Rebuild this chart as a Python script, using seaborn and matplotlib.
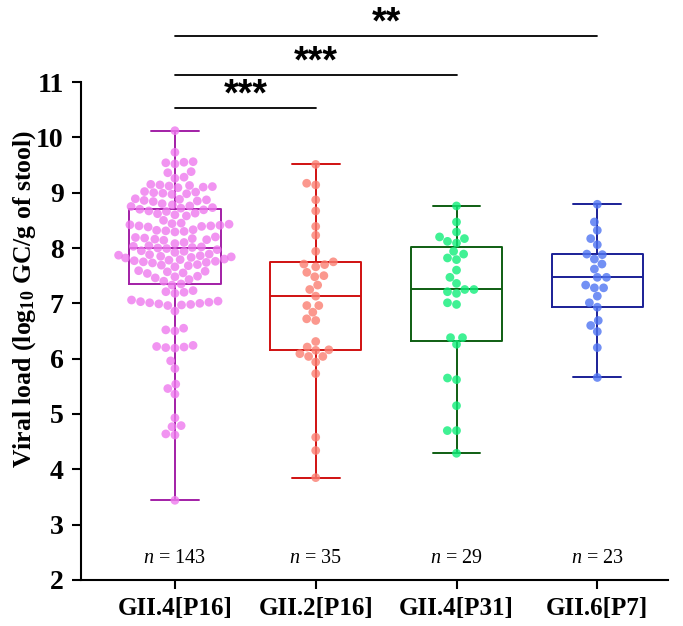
import numpy as np
import pandas as pd
import matplotlib
matplotlib.use("Agg")
import matplotlib.pyplot as plt
import seaborn as sns

genotypes = ["GII.4[P16]", "GII.2[P16]", "GII.4[P31]", "GII.6[P7]"]

# viral load values (log10 GC/g of stool)
gii4_p16 = [
    10.12, 9.73, 9.56, 9.54, 9.52, 9.55, 9.38, 9.36, 9.28, 9.26,
    9.15, 9.13, 9.12, 9.10, 9.14, 9.11, 9.09,
    9.02, 9.00, 8.98, 9.01, 8.99, 8.97,
    8.89, 8.87, 8.86, 8.88, 8.85, 8.84,
    8.80, 8.78, 8.76, 8.75, 8.73, 8.72, 8.70, 8.69, 8.67, 8.66,
    8.63, 8.62, 8.60, 8.58, 8.50,
    8.45, 8.44, 8.43, 8.42, 8.41, 8.40, 8.40, 8.39, 8.38,
    8.33, 8.32, 8.31, 8.30, 8.29,
    8.20, 8.19, 8.18, 8.17, 8.16, 8.15, 8.14, 8.10, 8.08,
    8.04, 8.03, 8.02, 8.01, 8.00, 7.99, 7.97, 7.95, 7.94, 7.92,
    7.89, 7.88, 7.87, 7.86, 7.85, 7.84, 7.83, 7.82,
    7.80, 7.79, 7.78, 7.77, 7.76, 7.75, 7.74, 7.73,
    7.70, 7.69, 7.68, 7.66, 7.59, 7.58, 7.57, 7.55, 7.54,
    7.49, 7.48, 7.46, 7.43, 7.40, 7.35, 7.33, 7.23, 7.21, 7.20, 7.18,
    7.06, 7.04, 7.03, 7.02, 7.01, 7.00, 6.99, 6.98, 6.97, 6.96,
    6.86, 6.55, 6.52, 6.50, 6.24, 6.22, 6.21, 6.20, 6.19,
    5.96, 5.82, 5.54, 5.46, 5.36, 4.93, 4.79, 4.77, 4.64, 4.62, 3.44,
]
gii2_p16 = [
    9.51, 9.14, 9.17, 8.87, 8.67, 8.39, 8.23, 7.94, 7.75, 7.70,
    7.71, 7.66, 7.56, 7.50, 7.48, 7.33, 7.25, 7.13, 6.96, 6.96,
    6.84, 6.72, 6.69, 6.31, 6.21, 6.16, 6.15, 6.09, 6.04, 6.04,
    5.94, 5.73, 4.58, 4.34, 3.85,
]
gii4_p31 = [
    8.76, 8.47, 8.29, 8.20, 8.17, 8.12, 8.09, 7.94, 7.89, 7.82,
    7.79, 7.60, 7.47, 7.36, 7.25, 7.25, 7.21, 7.18, 7.01, 6.98,
    6.38, 6.38, 6.26, 5.65, 5.62, 5.15, 4.70, 4.70, 4.29,
]
gii6_p7 = [
    8.79, 8.47, 8.32, 8.17, 8.06, 7.89, 7.88, 7.80, 7.71, 7.62,
    7.47, 7.47, 7.33, 7.28, 7.28, 7.13, 7.01, 6.93, 6.69, 6.60,
    6.49, 6.20, 5.66,
]

point_colors = ["#EE7AEE", "#FA7F72", "#10EE7A", "#4F74F2"]
line_colors = ["#A21FA6", "#D01010", "#0E5E12", "#1A1F96"]

# comparisons: (group a, group b, bar height, stars)
comparisons = [(0, 1, 10.53, "***"), (0, 2, 11.13, "***"), (0, 3, 11.83, "**")]

groups = [gii4_p16, gii2_p16, gii4_p31, gii6_p7]
df = pd.DataFrame({
    "genotype": np.repeat(genotypes, [len(g) for g in groups]),
    "load": np.concatenate(groups),
})

sns.set_style("ticks")
plt.rcParams["font.family"] = ["Liberation Serif", "DejaVu Serif"]
plt.rcParams["mathtext.fontset"] = "custom"
plt.rcParams["mathtext.rm"] = "Liberation Serif"
plt.rcParams["mathtext.it"] = "Liberation Serif:italic"
plt.rcParams["mathtext.bf"] = "Liberation Serif:bold"
for key in ("text.color", "axes.labelcolor", "xtick.color", "ytick.color", "axes.edgecolor"):
    plt.rcParams[key] = "black"

fig = plt.figure(figsize=(6.83, 6.26), dpi=100)
ax = fig.add_axes([0.1186, 0.0735, 0.859, 0.7955])

# Prism style box: quartiles by (n+1) method, whiskers min to max
stats = []
for g in groups:
    q1, med, q3 = np.percentile(g, [25, 50, 75], method="weibull")
    stats.append(dict(med=med, q1=q1, q3=q3, whislo=min(g), whishi=max(g), fliers=[]))
art = ax.bxp(stats, positions=range(4), widths=0.65, capwidths=0.34,
             showfliers=False, manage_ticks=False, patch_artist=False)
for i, c in enumerate(line_colors):
    art["boxes"][i].set(color=c, linewidth=1.4)
    art["medians"][i].set(color=c, linewidth=1.4)
    for k in (2 * i, 2 * i + 1):
        art["whiskers"][k].set(color=c, linewidth=1.4)
        art["caps"][k].set(color=c, linewidth=1.4)

sns.swarmplot(data=df, x="genotype", y="load", hue="genotype", order=genotypes,
              hue_order=genotypes, palette=point_colors, size=6.3, alpha=0.8,
              linewidth=0, legend=False, ax=ax, zorder=3)

for i, g in enumerate(groups):
    ax.text(i, 2.38, r"$\it{n}$ = %d" % len(g), ha="center", va="center", fontsize=14.5)

for a, b, h, s in comparisons:
    ax.plot([a, b], [h, h], color="black", linewidth=1.3, clip_on=False)
    ax.text((a + b) / 2, h + 0.05, s, ha="center", va="baseline", fontsize=27,
            fontweight="bold", family="Liberation Sans")

ax.set_xlim(-0.667, 3.5)
ax.set_ylim(2, 11)
ax.set_yticks(range(2, 12))
ax.set_xticks(range(4))
ax.set_xticklabels(genotypes, fontsize=18, fontweight="bold")
for lab in ax.get_yticklabels():
    lab.set_fontweight("bold")
ax.tick_params(axis="y", labelsize=20, width=1.5, length=6.5, pad=6)
ax.tick_params(axis="x", width=1.5, length=6.5, pad=6)
ax.set_xlabel("")
ax.set_ylabel(r"Viral load (log$_{\mathbf{10}}$ GC/g of stool)", fontsize=18.5,
              fontweight="bold")
ax.yaxis.set_label_coords(-0.073, 0.564)
for sp in ("top", "right"):
    ax.spines[sp].set_visible(False)
for sp in ("left", "bottom"):
    ax.spines[sp].set_linewidth(1.5)

fig.savefig("out.png", dpi=100)
